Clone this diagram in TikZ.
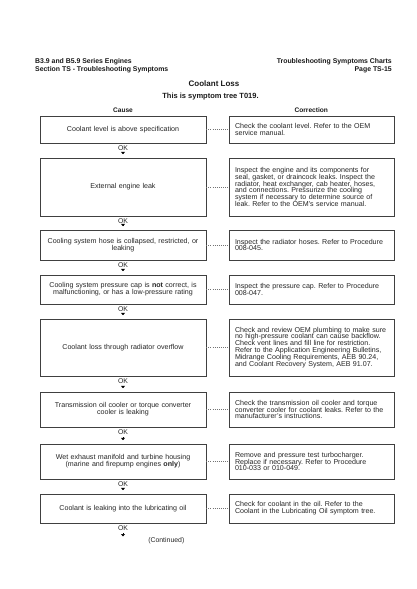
\documentclass[tikz,border=0pt]{standalone}
\usepackage{fontspec}
\setmainfont{Liberation Sans}
\usetikzlibrary{arrows.meta}
\frenchspacing

\tikzset{
  cause/.style={draw=black!75,thin,fill=white,text=black!85,align=center,
    text width=156pt,inner xsep=5pt,inner ysep=1pt,
    font=\fontsize{7.1}{6.9}\selectfont},
  fix/.style={draw=black!75,thin,fill=white,text=black!85,align=left,
    text width=153pt,inner xsep=6pt,inner ysep=1pt,
    font=\fontsize{7.1}{6.9}\selectfont},
  oklabel/.style={inner sep=0pt,text=black!85,font=\fontsize{6.9}{7}\selectfont},
  head/.style={inner sep=0pt,text=black!90,font=\bfseries\fontsize{6.9}{7.6}\selectfont},
  link/.style={black!55,line width=0.5pt,dash pattern=on 0.6pt off 1.5pt},
  next/.style={->,line width=0.7pt,black,shorten <=2.5pt,shorten >=3.5pt}
}

\begin{document}
\begin{tikzpicture}[x=1pt,y=-1pt,>={Latex[length=2.4pt,width=4.5pt]}]
  \useasboundingbox (0,0) rectangle (416,589);
  % page header
  \node[head,anchor=north west,align=left] (hleft) at (35,58.5) {B3.9 and B5.9 Series Engines\\Section TS - Troubleshooting Symptoms};
  \node[head,anchor=north east,align=right] (hright) at (392,58.5) {Troubleshooting Symptoms Charts\\Page TS-15};
  \node[head,font=\bfseries\fontsize{8}{9}\selectfont] (title) at (214,84) {Coolant Loss};
  \node[head,font=\bfseries\fontsize{7.5}{7}\selectfont] (tree) at (210.5,97) {This is symptom tree T019.};
  \node[head,font=\bfseries\fontsize{6.6}{6}\selectfont] (hcause) at (123,110) {Cause};
  \node[head,font=\bfseries\fontsize{6.6}{6}\selectfont] (hfix) at (311.3,110) {Correction};

  % row 1
  \node[cause,minimum height=27pt] (cause1) at (123,129.5) {Coolant level is above specification};
  \node[fix,minimum height=27pt] (fix1) at (311.5,129.5) {Check the coolant level. Refer to the OEM\\service manual.};
  \draw[link] (cause1) -- (fix1);
  \node[oklabel] (ok1) at (123,148) {OK};
  % row 2
  \node[cause,minimum height=58pt] (cause2) at (123,187) {External engine leak};
  \node[fix,minimum height=58pt] (fix2) at (311.5,187) {Inspect the engine and its components for\\seal, gasket, or draincock leaks. Inspect the\\radiator, heat exchanger, cab heater, hoses,\\and connections. Pressurize the cooling\\system if necessary to determine source of\\leak. Refer to the OEM's service manual.};
  \draw[link] (cause2) -- (fix2);
  \node[oklabel] (ok2) at (123,221) {OK};
  % row 3
  \node[cause,minimum height=30pt] (cause3) at (123,245) {Cooling system hose is collapsed, restricted, or\\leaking};
  \node[fix,minimum height=30pt] (fix3) at (311.5,245) {Inspect the radiator hoses. Refer to Procedure\\008-045.};
  \draw[link] (cause3) -- (fix3);
  \node[oklabel] (ok3) at (123,265) {OK};
  % row 4
  \node[cause,minimum height=29pt] (cause4) at (123,289.5) {Cooling system pressure cap is \textbf{not} correct, is\\malfunctioning, or has a low-pressure rating};
  \node[fix,minimum height=29pt] (fix4) at (311.5,289.5) {Inspect the pressure cap. Refer to Procedure\\008-047.};
  \draw[link] (cause4) -- (fix4);
  \node[oklabel] (ok4) at (123,309) {OK};
  % row 5
  \node[cause,minimum height=57pt] (cause5) at (123,347.5) {Coolant loss through radiator overflow};
  \node[fix,minimum height=57pt] (fix5) at (311.5,347.5) {Check and review OEM plumbing to make sure\\no high-pressure coolant can cause backflow.\\Check vent lines and fill line for restriction.\\Refer to the Application Engineering Bulletins,\\Midrange Cooling Requirements, AEB 90.24,\\and Coolant Recovery System, AEB 91.07.};
  \draw[link] (cause5) -- (fix5);
  \node[oklabel] (ok5) at (123,381) {OK};
  % row 6
  \node[cause,minimum height=35pt] (cause6) at (123,409.5) {Transmission oil cooler or torque converter\\cooler is leaking};
  \node[fix,minimum height=35pt] (fix6) at (311.5,409.5) {Check the transmission oil cooler and torque\\converter cooler for coolant leaks. Refer to the\\manufacturer's instructions.};
  \draw[link] (cause6) -- (fix6);
  \node[oklabel] (ok6) at (123,432) {OK};
  % row 7
  \node[cause,minimum height=35pt] (cause7) at (123,461.5) {Wet exhaust manifold and turbine housing\\(marine and firepump engines \textbf{only})};
  \node[fix,minimum height=35pt] (fix7) at (311.5,461.5) {Remove and pressure test turbocharger.\\Replace if necessary. Refer to Procedure\\010-033 or 010-049.};
  \draw[link] (cause7) -- (fix7);
  \node[oklabel] (ok7) at (123,484) {OK};
  % row 8
  \node[cause,minimum height=29pt] (cause8) at (123,508.5) {Coolant is leaking into the lubricating oil};
  \node[fix,minimum height=29pt] (fix8) at (311.5,508.5) {Check for coolant in the oil. Refer to the\\Coolant in the Lubricating Oil symptom tree.};
  \draw[link] (cause8) -- (fix8);
  \node[oklabel] (ok8) at (123,528) {OK};
  \coordinate (tail) at (123,540);
  \node[oklabel] (cont) at (166.3,541) {(Continued)};

  % OK arrows
  \draw[next] (ok1.south) -- (cause2.north);
  \draw[next] (ok2.south) -- (cause3.north);
  \draw[next] (ok3.south) -- (cause4.north);
  \draw[next] (ok4.south) -- (cause5.north);
  \draw[next] (ok5.south) -- (cause6.north);
  \draw[next] (ok6.south) -- (cause7.north);
  \draw[next] (ok7.south) -- (cause8.north);
  \draw[next] (ok8.south) -- (tail);
\end{tikzpicture}
\end{document}
